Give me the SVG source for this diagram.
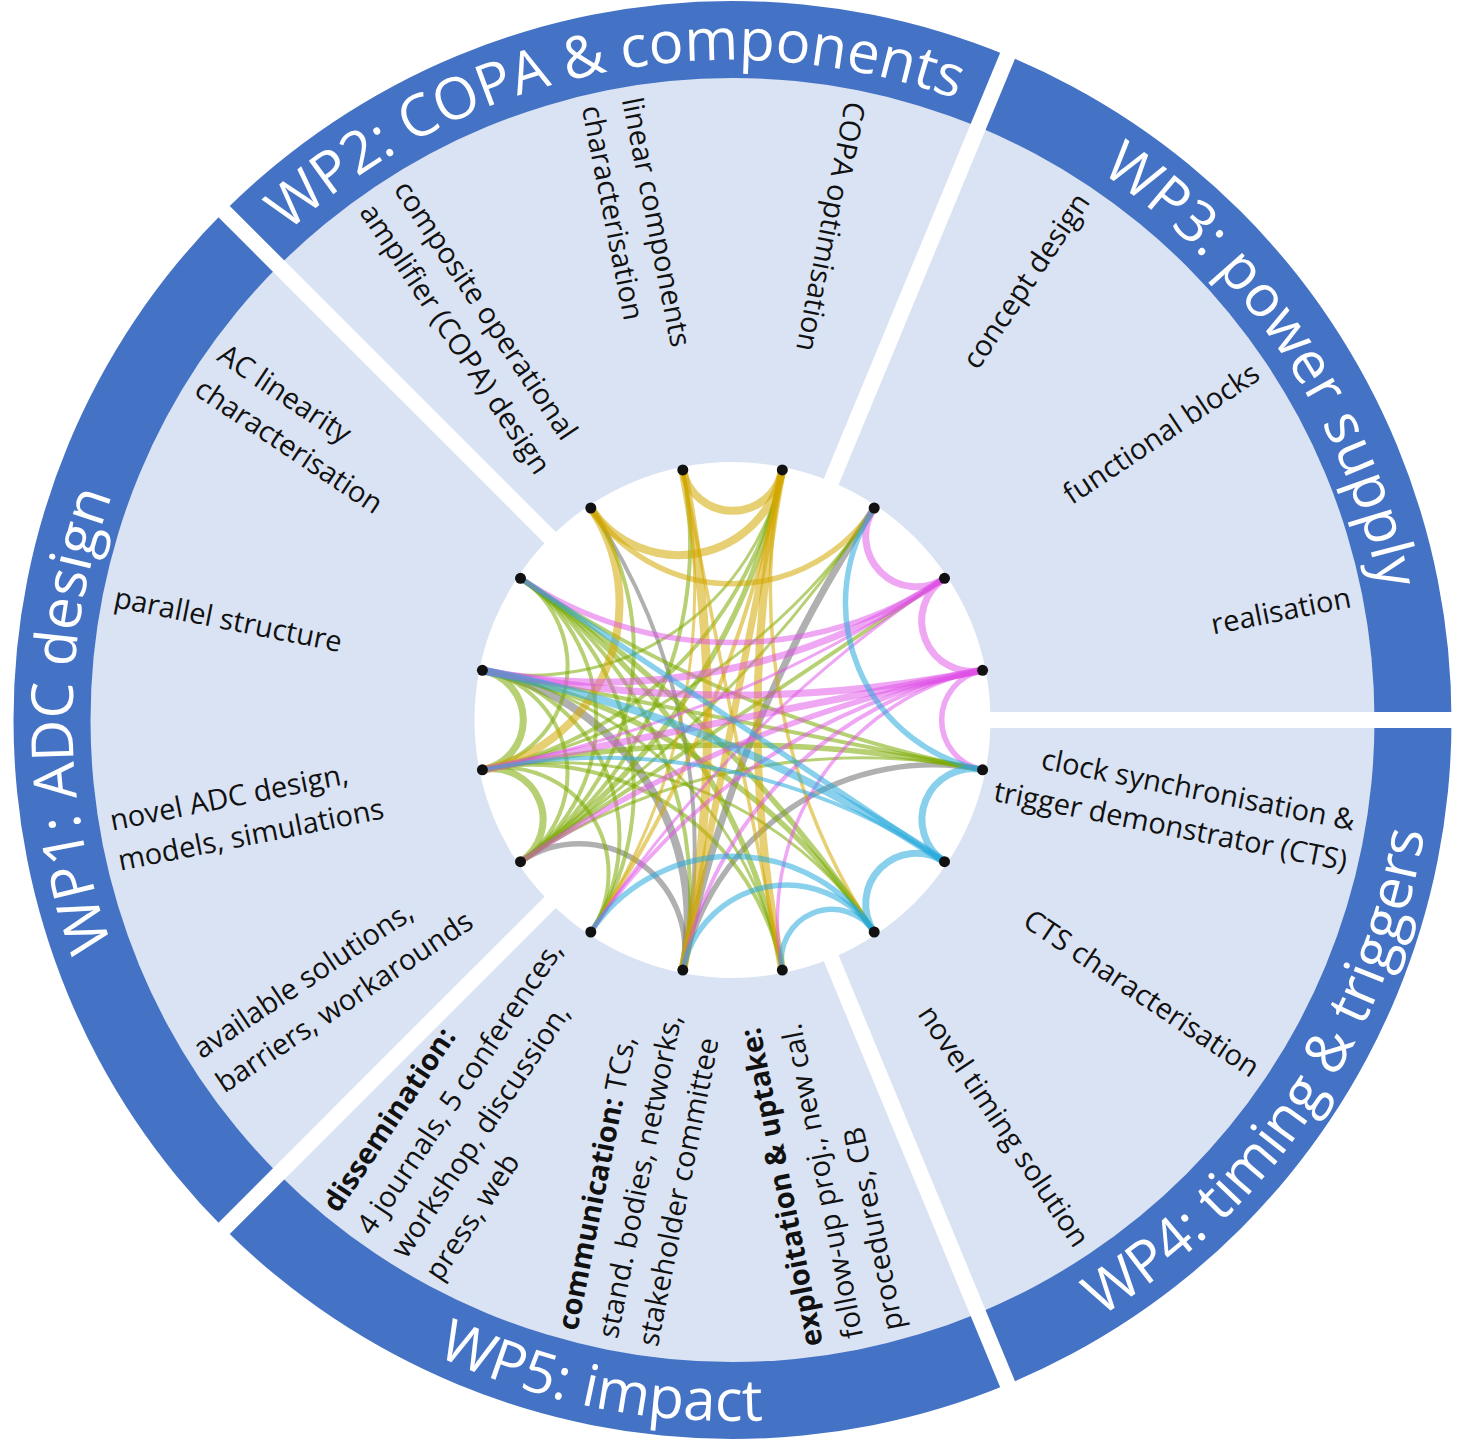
<svg xmlns="http://www.w3.org/2000/svg" width="1460" height="1440" viewBox="0 0 1460 1440">
<style>
.lb{font-family:"Open Sans","Liberation Sans",sans-serif;font-size:29px;fill:#111}
.b{font-weight:bold}
.ttl{font-family:"Open Sans","Liberation Sans",sans-serif;font-size:58px;fill:#fff}
.ch{fill:none;stroke-linecap:butt}
.gr{stroke:#7AAA00;stroke-opacity:.55}
.go{stroke:#D4A800;stroke-opacity:.55}
.mg{stroke:#E050E8;stroke-opacity:.5}
.cy{stroke:#28AADC;stroke-opacity:.55}
.gy{stroke:#707070;stroke-opacity:.55}
.dot{fill:#111}
</style>
<defs>
<path id="p1" d="M402.5 1291.6A660 660 0 0 1 402.5 148.4"/>
<path id="p2" d="M107.5 507.8A660 660 0 0 1 1228.7 284.8"/>
<path id="p3" d="M689.3 61.4A660 660 0 0 1 1324.4 1011.9"/>
<path id="p4" d="M686.7 1419.5A701 701 0 0 0 1361.2 410"/>
<path id="p5" d="M68.7 945.3A701 701 0 0 0 1259.5 1182.2"/>
</defs>
<rect width="1460" height="1440" fill="#fff"/>
<g id="rings">
<circle cx="732.5" cy="720" r="719" fill="#4472C4"/>
<circle cx="732.5" cy="720" r="642" fill="#DAE3F3"/>
<circle cx="732.5" cy="720" r="258" fill="#fff"/>
<g stroke="#fff" stroke-width="16">
<line x1="732.5" y1="720" x2="1480" y2="720"/>
<line x1="732.5" y1="720" x2="1023.3" y2="17.9"/>
<line x1="732.5" y1="720" x2="195.1" y2="182.6"/>
<line x1="732.5" y1="720" x2="195.1" y2="1257.4"/>
<line x1="732.5" y1="720" x2="1023.3" y2="1422.1"/>
</g>
</g>
<g id="titles">
<g id="wp1"><text class="ttl"><textPath href="#p1" startOffset="50%" text-anchor="middle">WP1: ADC design</textPath></text></g>
<g id="wp2"><text class="ttl"><textPath href="#p2" startOffset="50%" text-anchor="middle">WP2: COPA &amp; components</textPath></text></g>
<g id="wp3"><text class="ttl"><textPath href="#p3" startOffset="50%" text-anchor="middle">WP3: power supply</textPath></text></g>
<g id="wp4"><text class="ttl"><textPath href="#p4" startOffset="50%" text-anchor="middle">WP4: timing &amp; triggers</textPath></text></g>
<g id="wp5"><text class="ttl"><textPath href="#p5" startOffset="50%" text-anchor="middle">WP5: impact</textPath></text></g>
</g>
<g id="connectors" class="ch">
<g class="gy">
<path stroke-width="4" d="M590.8 508A615.6 615.6 0 0 1 682.8 970.1"/>
<path stroke-width="7" d="M682.8 970.1A1282 1282 0 0 1 874.2 508"/>
<path stroke-width="5.5" d="M682.8 970.1A255 255 0 0 1 982.6 769.8"/>
<path stroke-width="8" d="M482.4 670.3A255 255 0 0 1 682.8 970.1"/>
<path stroke-width="5.5" d="M520.5 861.7A105.6 105.6 0 0 1 682.8 970.1"/>
</g>
<g class="gr">
<path stroke-width="7" d="M482.4 670.3A50.7 50.7 0 0 1 482.4 769.8"/>
<path stroke-width="7" d="M482.4 769.8A50.7 50.7 0 0 1 520.5 861.7"/>
<path stroke-width="4" d="M482.4 670.3A105.6 105.6 0 0 1 520.5 861.7"/>
<path stroke-width="4" d="M520.5 578.3A105.6 105.6 0 0 1 482.4 769.8"/>
<path stroke-width="4" d="M520.5 578.3A170.4 170.4 0 0 1 520.5 861.7"/>
<path stroke-width="4" d="M520.5 578.3A255 255 0 0 1 590.8 932"/>
<path stroke-width="4" d="M482.4 670.3A170.4 170.4 0 0 1 590.8 932"/>
<path stroke-width="4" d="M482.4 769.8A105.6 105.6 0 0 1 590.8 932"/>
<path stroke-width="4" d="M520.5 578.3A381.6 381.6 0 0 1 682.8 970.1"/>
<path stroke-width="5.5" d="M520.5 578.3A615.6 615.6 0 0 1 782.3 970.1"/>
<path stroke-width="5.5" d="M520.5 578.3A1282 1282 0 0 1 874.2 932"/>
<path stroke-width="3" d="M482.4 670.3A381.6 381.6 0 0 1 782.3 970.1"/>
<path stroke-width="5.5" d="M482.4 670.3A615.6 615.6 0 0 1 874.2 932"/>
<path stroke-width="4" d="M482.4 670.3L982.6 769.8"/>
<path stroke-width="3" d="M782.3 469.9A255 255 0 0 1 482.4 670.3"/>
<path stroke-width="3" d="M482.4 769.8A381.6 381.6 0 0 1 874.2 932"/>
<path stroke-width="5.5" d="M482.4 769.8A1282 1282 0 0 1 982.6 769.8"/>
<path stroke-width="4" d="M482.4 769.8A255 255 0 0 1 782.3 970.1"/>
<path stroke-width="3" d="M874.2 508A615.6 615.6 0 0 1 482.4 769.8"/>
<path stroke-width="4" d="M782.3 469.9A381.6 381.6 0 0 1 482.4 769.8"/>
<path stroke-width="3" d="M520.5 861.7A615.6 615.6 0 0 1 982.6 769.8"/>
<path stroke-width="3" d="M874.2 508A1282 1282 0 0 1 520.5 861.7"/>
<path stroke-width="5.5" d="M782.3 469.9A615.6 615.6 0 0 1 520.5 861.7"/>
<path stroke-width="4" d="M682.8 469.9A381.6 381.6 0 0 1 520.5 861.7"/>
<path stroke-width="4" d="M590.8 508A255 255 0 0 1 520.5 861.7"/>
<path stroke-width="4" d="M944.5 578.3L520.5 861.7"/>
<path stroke-width="4" d="M982.6 769.8A1282 1282 0 0 1 520.5 578.3"/>
</g>
<g class="go">
<path stroke-width="8" d="M782.3 469.9A50.7 50.7 0 0 1 682.8 469.9"/>
<path stroke-width="8" d="M782.3 469.9A105.6 105.6 0 0 1 590.8 508"/>
<path stroke-width="5.5" d="M874.2 508A170.4 170.4 0 0 1 590.8 508"/>
<path stroke-width="9" d="M682.8 469.9A1282 1282 0 0 1 682.8 970.1"/>
<path stroke-width="7" d="M782.3 469.9L682.8 970.1"/>
<path stroke-width="4" d="M782.3 469.9A1282 1282 0 0 1 590.8 932"/>
<path stroke-width="8" d="M782.3 970.1A1282 1282 0 0 1 782.3 469.9"/>
<path stroke-width="3.5" d="M874.2 932A615.6 615.6 0 0 1 782.3 469.9"/>
<path stroke-width="8" d="M590.8 508A170.4 170.4 0 0 1 482.4 769.8"/>
<path stroke-width="3" d="M682.8 469.9A615.6 615.6 0 0 1 590.8 932"/>
<path stroke-width="3.5" d="M682.8 469.9L782.3 970.1"/>
</g>
<g class="mg">
<path stroke-width="7" d="M944.5 578.3A50.7 50.7 0 0 1 874.2 508"/>
<path stroke-width="7" d="M982.6 670.3A50.7 50.7 0 0 1 944.5 578.3"/>
<path stroke-width="5.5" d="M982.6 769.8A50.7 50.7 0 0 1 982.6 670.3"/>
<path stroke-width="5.5" d="M944.5 578.3A381.6 381.6 0 0 1 520.5 578.3"/>
<path stroke-width="7" d="M944.5 578.3A615.6 615.6 0 0 1 482.4 670.3"/>
<path stroke-width="7" d="M982.6 670.3A1282 1282 0 0 1 482.4 670.3"/>
<path stroke-width="7" d="M982.6 670.3L482.4 769.8"/>
<path stroke-width="5.5" d="M520.5 861.7A1282 1282 0 0 1 982.6 670.3"/>
<path stroke-width="4" d="M590.8 932A615.6 615.6 0 0 1 982.6 670.3"/>
<path stroke-width="3.5" d="M782.3 970.1A255 255 0 0 1 982.6 670.3"/>
<path stroke-width="3" d="M590.8 932A1282 1282 0 0 1 944.5 578.3"/>
<path stroke-width="3" d="M944.5 578.3A1282 1282 0 0 1 482.4 769.8"/>
<path stroke-width="4" d="M682.8 970.1A381.6 381.6 0 0 1 982.6 670.3"/>
</g>
<g class="cy">
<path stroke-width="7" d="M944.5 861.7A50.7 50.7 0 0 1 982.6 769.8"/>
<path stroke-width="7" d="M874.2 932A50.7 50.7 0 0 1 944.5 861.7"/>
<path stroke-width="5.5" d="M782.3 970.1A50.7 50.7 0 0 1 874.2 932"/>
<path stroke-width="5.5" d="M982.6 769.8A170.4 170.4 0 0 1 874.2 508"/>
<path stroke-width="8" d="M482.4 670.3A1282 1282 0 0 1 944.5 861.7"/>
<path stroke-width="5.5" d="M520.5 578.3L944.5 861.7"/>
<path stroke-width="5.5" d="M590.8 932A170.4 170.4 0 0 1 874.2 932"/>
<path stroke-width="5.5" d="M682.8 970.1A105.6 105.6 0 0 1 874.2 932"/>
<path stroke-width="4" d="M482.4 769.8A615.6 615.6 0 0 1 944.5 861.7"/>
</g>
</g>
<g id="n0"><circle class="dot" cx="982.6" cy="670.3" r="5.5"/><text class="lb" text-anchor="end" transform="translate(1350.4 597.1) rotate(-11.25)"><tspan x="0" y="10">realisation</tspan></text></g>
<g id="n1"><circle class="dot" cx="944.5" cy="578.3" r="5.5"/><text class="lb" text-anchor="end" transform="translate(1256.3 370) rotate(-33.75)"><tspan x="0" y="10">functional blocks</tspan></text></g>
<g id="n2"><circle class="dot" cx="874.2" cy="508" r="5.5"/><text class="lb" text-anchor="end" transform="translate(1082.5 196.2) rotate(-56.25)"><tspan x="0" y="10">concept design</tspan></text></g>
<g id="n3"><circle class="dot" cx="782.3" cy="469.9" r="5.5"/><text class="lb" transform="translate(855.4 102.1) rotate(101.25)"><tspan x="0" y="10">COPA optimisation</tspan></text></g>
<g id="n4"><circle class="dot" cx="682.8" cy="469.9" r="5.5"/><text class="lb" transform="translate(609.6 102.1) rotate(78.75)"><tspan x="0" y="-12.5">linear components</tspan><tspan x="0" y="28.5">characterisation</tspan></text></g>
<g id="n5"><circle class="dot" cx="590.8" cy="508" r="5.5"/><text class="lb" transform="translate(382.5 196.2) rotate(56.25)"><tspan x="0" y="-12.5">composite operational</tspan><tspan x="0" y="28.5">amplifier (COPA) design</tspan></text></g>
<g id="n6"><circle class="dot" cx="520.5" cy="578.3" r="5.5"/><text class="lb" transform="translate(208.7 370) rotate(33.75)"><tspan x="0" y="-12.5">AC linearity</tspan><tspan x="0" y="28.5">characterisation</tspan></text></g>
<g id="n7"><circle class="dot" cx="482.4" cy="670.3" r="5.5"/><text class="lb" transform="translate(114.6 597.1) rotate(11.25)"><tspan x="0" y="10">parallel structure</tspan></text></g>
<g id="n8"><circle class="dot" cx="482.4" cy="769.8" r="5.5"/><text class="lb" transform="translate(114.6 842.9) rotate(-11.25)"><tspan x="0" y="-12.5">novel ADC design,</tspan><tspan x="0" y="28.5">models, simulations</tspan></text></g>
<g id="n9"><circle class="dot" cx="520.5" cy="861.7" r="5.5"/><text class="lb" transform="translate(208.7 1070) rotate(-33.75)"><tspan x="0" y="-12.5">available solutions,</tspan><tspan x="0" y="28.5">barriers, workarounds</tspan></text></g>
<g id="n10"><circle class="dot" cx="590.8" cy="932" r="5.5"/><text class="lb" transform="translate(382.5 1243.8) rotate(-56.25)"><tspan x="0" y="-53.5" class="b">dissemination:</tspan><tspan x="0" y="-12.5">4 journals, 5 conferences,</tspan><tspan x="0" y="28.5">workshop, discussion,</tspan><tspan x="0" y="69.5">press, web</tspan></text></g>
<g id="n11"><circle class="dot" cx="682.8" cy="970.1" r="5.5"/><text class="lb" transform="translate(609.6 1337.9) rotate(-78.75)"><tspan x="0" y="-33"><tspan class="b">communication:</tspan> TCs,</tspan><tspan x="0" y="8">stand. bodies, networks,</tspan><tspan x="0" y="49">stakeholder committee</tspan></text></g>
<g id="n12"><circle class="dot" cx="782.3" cy="970.1" r="5.5"/><text class="lb" transform="translate(855.4 1337.9) rotate(-101.25)"><tspan x="0" y="-33" class="b">exploitation &amp; uptake:</tspan><tspan x="0" y="8">follow-up proj., new cal.</tspan><tspan x="0" y="49">procedures, CB</tspan></text></g>
<g id="n13"><circle class="dot" cx="874.2" cy="932" r="5.5"/><text class="lb" text-anchor="end" transform="translate(1082.5 1243.8) rotate(56.25)"><tspan x="0" y="10">novel timing solution</tspan></text></g>
<g id="n14"><circle class="dot" cx="944.5" cy="861.7" r="5.5"/><text class="lb" text-anchor="end" transform="translate(1256.3 1070) rotate(33.75)"><tspan x="0" y="10">CTS characterisation</tspan></text></g>
<g id="n15"><circle class="dot" cx="982.6" cy="769.8" r="5.5"/><text class="lb" text-anchor="end" transform="translate(1350.4 842.9) rotate(11.25)"><tspan x="0" y="-12.5">clock synchronisation &amp;</tspan><tspan x="0" y="28.5">trigger demonstrator (CTS)</tspan></text></g>
</svg>
